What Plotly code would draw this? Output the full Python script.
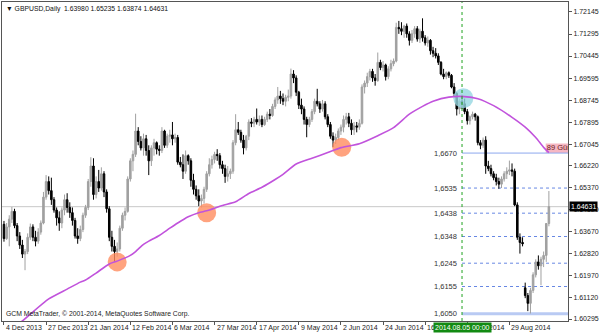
import plotly.graph_objects as go

# ---------------- data ----------------
opens = [1.6395,1.6340,1.6385,1.6415,1.6445,1.6390,1.6350,1.6315,1.6280,1.6290,
1.6345,1.6385,1.6345,1.6330,1.6365,1.6400,1.6500,1.6560,1.6525,1.6490,
1.6450,1.6420,1.6400,1.6450,1.6490,1.6460,1.6440,1.6410,1.6350,1.6340,
1.6375,1.6430,1.6460,1.6560,1.6620,1.6510,1.6560,1.6535,1.6590,1.6520,
1.6455,1.6345,1.6310,1.6290,1.6300,1.6380,1.6430,1.6445,1.6570,1.6640,
1.6665,1.6755,1.6715,1.6690,1.6725,1.6680,1.6640,1.6690,1.6710,1.6685,
1.6680,1.6755,1.6700,1.6735,1.6740,1.6725,1.6730,1.6635,1.6625,1.6600,
1.6660,1.6640,1.6565,1.6530,1.6505,1.6485,1.6495,1.6530,1.6590,1.6625,
1.6645,1.6665,1.6660,1.6625,1.6610,1.6580,1.6590,1.6600,1.6710,1.6760,
1.6750,1.6720,1.6690,1.6735,1.6790,1.6785,1.6800,1.6790,1.6800,1.6780,
1.6800,1.6820,1.6815,1.6850,1.6875,1.6890,1.6880,1.6870,1.6885,1.6890,
1.6975,1.6960,1.6905,1.6855,1.6840,1.6800,1.6780,1.6800,1.6830,1.6870,
1.6860,1.6840,1.6860,1.6810,1.6780,1.6735,1.6720,1.6730,1.6755,1.6770,
1.6800,1.6810,1.6785,1.6760,1.6775,1.6770,1.6785,1.6925,1.6940,1.6965,
1.6985,1.6960,1.6950,1.7020,1.7000,1.7010,1.6965,1.6995,1.7015,1.7025,
1.7155,1.7150,1.7140,1.7160,1.7130,1.7105,1.7130,1.7150,1.7110,1.7140,
1.7115,1.7095,1.7105,1.7065,1.7055,1.7045,1.7020,1.6975,1.6965,1.6980,
1.6970,1.6925,1.6900,1.6840,1.6870,1.6860,1.6830,1.6795,1.6810,1.6820,
1.6810,1.6710,1.6700,1.6720,1.6620,1.6610,1.6590,1.6575,1.6560,1.6550,
1.6570,1.6590,1.6600,1.6605,1.6600,1.6470,1.6345,1.6325,1.6150,1.6120,
1.6090,1.6140,1.6200,1.6250,1.6235,1.6260,1.6275,1.63980]
highs = [1.6408,1.6400,1.6430,1.6462,1.6455,1.6400,1.6365,1.6335,1.6300,1.6360,
1.6398,1.6395,1.6370,1.6380,1.6410,1.6520,1.6585,1.6580,1.6575,1.6500,
1.6460,1.6445,1.6460,1.6510,1.6515,1.6480,1.6460,1.6420,1.6380,1.6390,
1.6440,1.6470,1.6570,1.6654,1.6650,1.6580,1.6605,1.6615,1.6600,1.6530,
1.6465,1.6370,1.6335,1.6325,1.6390,1.6440,1.6460,1.6580,1.6650,1.6680,
1.6822,1.6770,1.6735,1.6745,1.6740,1.6700,1.6700,1.6725,1.6715,1.6700,
1.6770,1.6760,1.6745,1.6760,1.6790,1.6745,1.6740,1.6655,1.6665,1.6680,
1.6665,1.6650,1.6590,1.6545,1.6530,1.6510,1.6540,1.6600,1.6650,1.6660,
1.6675,1.6685,1.6670,1.6640,1.6625,1.6620,1.6610,1.6720,1.6820,1.6790,
1.6760,1.6740,1.6740,1.6800,1.6805,1.6810,1.6842,1.6815,1.6815,1.6810,
1.6830,1.6840,1.6860,1.6885,1.6925,1.6910,1.6900,1.6895,1.6915,1.6996,
1.6990,1.6970,1.6910,1.6880,1.6850,1.6810,1.6810,1.6840,1.6880,1.6918,
1.6870,1.6875,1.6870,1.6820,1.6790,1.6750,1.6745,1.6765,1.6780,1.6815,
1.6825,1.6825,1.6800,1.6790,1.6790,1.6800,1.6935,1.6950,1.6980,1.6995,
1.6995,1.6975,1.7058,1.7030,1.7025,1.7015,1.7005,1.7030,1.7035,1.7173,
1.7180,1.7175,1.7165,1.7170,1.7140,1.7145,1.7160,1.7160,1.7150,1.7190,
1.7125,1.7120,1.7110,1.7080,1.7075,1.7055,1.7025,1.6995,1.6985,1.6985,
1.6975,1.6940,1.6905,1.6880,1.6895,1.6880,1.6840,1.6815,1.6830,1.6825,
1.6815,1.6720,1.6730,1.6735,1.6640,1.6625,1.6600,1.6590,1.6575,1.6580,
1.6600,1.6615,1.6641,1.6630,1.6610,1.6480,1.6360,1.6345,1.6170,1.6130,
1.6150,1.6210,1.6260,1.6275,1.6270,1.6290,1.6400,1.65235]
lows = [1.6328,1.6335,1.6310,1.6400,1.6380,1.6330,1.6300,1.6265,1.6218,1.6280,
1.6335,1.6330,1.6310,1.6320,1.6355,1.6395,1.6490,1.6510,1.6470,1.6440,
1.6390,1.6370,1.6380,1.6430,1.6440,1.6420,1.6390,1.6340,1.6320,1.6330,
1.6365,1.6420,1.6450,1.6540,1.6490,1.6495,1.6520,1.6525,1.6500,1.6440,
1.6330,1.6290,1.6250,1.6270,1.6290,1.6370,1.6410,1.6440,1.6560,1.6600,
1.6655,1.6700,1.6680,1.6660,1.6660,1.6585,1.6620,1.6660,1.6665,1.6660,
1.6670,1.6690,1.6690,1.6710,1.6700,1.6710,1.6625,1.6615,1.6570,1.6590,
1.6625,1.6540,1.6510,1.6490,1.6465,1.6460,1.6475,1.6520,1.6580,1.6610,
1.6630,1.6640,1.6610,1.6590,1.6555,1.6560,1.6570,1.6590,1.6700,1.6740,
1.6710,1.6665,1.6680,1.6720,1.6770,1.6770,1.6780,1.6775,1.6770,1.6775,
1.6790,1.6800,1.6810,1.6840,1.6860,1.6860,1.6855,1.6850,1.6870,1.6880,
1.6940,1.6890,1.6840,1.6820,1.6780,1.6731,1.6770,1.6790,1.6820,1.6850,
1.6825,1.6830,1.6800,1.6770,1.6725,1.6693,1.6705,1.6720,1.6740,1.6750,
1.6780,1.6770,1.6740,1.6740,1.6750,1.6760,1.6780,1.6900,1.6925,1.6950,
1.6945,1.6930,1.6945,1.6990,1.6985,1.6950,1.6955,1.6985,1.7005,1.7020,
1.7130,1.7125,1.7115,1.7115,1.7085,1.7095,1.7115,1.7100,1.7095,1.7100,
1.7085,1.7080,1.7050,1.7040,1.7035,1.7010,1.6970,1.6955,1.6955,1.6960,
1.6920,1.6890,1.6815,1.6820,1.6840,1.6820,1.6780,1.6780,1.6800,1.6795,
1.6700,1.6685,1.6690,1.6590,1.6600,1.6580,1.6565,1.6545,1.6532,1.6535,
1.6560,1.6570,1.6585,1.6580,1.6465,1.6335,1.6282,1.6310,1.6110,1.6060,
1.6051,1.6130,1.6190,1.6220,1.6160,1.6230,1.6250,1.63874]
closes = [1.6340,1.6385,1.6415,1.6445,1.6390,1.6350,1.6315,1.6280,1.6290,1.6345,
1.6385,1.6345,1.6330,1.6365,1.6400,1.6500,1.6560,1.6525,1.6490,1.6450,
1.6420,1.6400,1.6450,1.6490,1.6460,1.6440,1.6410,1.6350,1.6340,1.6375,
1.6430,1.6460,1.6560,1.6620,1.6510,1.6560,1.6535,1.6590,1.6520,1.6455,
1.6345,1.6310,1.6290,1.6300,1.6380,1.6430,1.6445,1.6570,1.6640,1.6665,
1.6755,1.6715,1.6690,1.6725,1.6680,1.6640,1.6690,1.6710,1.6685,1.6680,
1.6755,1.6700,1.6735,1.6740,1.6725,1.6730,1.6635,1.6625,1.6600,1.6660,
1.6640,1.6565,1.6530,1.6505,1.6485,1.6495,1.6530,1.6590,1.6625,1.6645,
1.6665,1.6660,1.6625,1.6610,1.6580,1.6590,1.6600,1.6710,1.6760,1.6750,
1.6720,1.6690,1.6735,1.6790,1.6785,1.6800,1.6790,1.6800,1.6780,1.6800,
1.6820,1.6815,1.6850,1.6875,1.6890,1.6880,1.6870,1.6885,1.6890,1.6975,
1.6960,1.6905,1.6855,1.6840,1.6800,1.6780,1.6800,1.6830,1.6870,1.6860,
1.6840,1.6860,1.6810,1.6780,1.6735,1.6720,1.6730,1.6755,1.6770,1.6800,
1.6810,1.6785,1.6760,1.6775,1.6770,1.6785,1.6925,1.6940,1.6965,1.6985,
1.6960,1.6950,1.7020,1.7000,1.7010,1.6965,1.6995,1.7015,1.7025,1.7155,
1.7150,1.7140,1.7160,1.7130,1.7105,1.7130,1.7150,1.7110,1.7140,1.7115,
1.7095,1.7105,1.7065,1.7055,1.7045,1.7020,1.6975,1.6965,1.6980,1.6970,
1.6925,1.6900,1.6840,1.6870,1.6860,1.6830,1.6795,1.6810,1.6820,1.6810,
1.6710,1.6700,1.6720,1.6620,1.6610,1.6590,1.6575,1.6560,1.6550,1.6570,
1.6590,1.6600,1.6605,1.6600,1.6470,1.6345,1.6325,1.6320,1.6120,1.6090,
1.6140,1.6200,1.6250,1.6235,1.6260,1.6275,1.6398,1.64631]
bar_idx = list(range(len(closes)))

label_idx = [0, 16, 32, 48, 64, 80, 96, 112, 128, 144, 160, 176, 192]
label_text = ["4 Dec 2013", "27 Dec 2013", "21 Jan 2014", "12 Feb 2014", "6 Mar 2014",
              "27 Mar 2014", "17 Apr 2014", "9 May 2014", "2 Jun 2014", "24 Jun 2014",
              "16 Jul 2014", "7 Aug 2014", "29 Aug 2014"]

ma_idx = [0, 7, 17, 24, 29, 31, 35, 40, 43, 48, 50, 53, 55, 59, 63, 66, 70, 74, 77, 83,
          88, 93, 98, 103, 106, 111, 117, 123, 128, 135, 142, 148, 154, 159, 163, 169,
          175, 180, 186, 193, 198, 202, 205, 207]
ma_val = [1.5965, 1.6022, 1.6107, 1.6145, 1.6172, 1.6180, 1.6207, 1.6242, 1.6253, 1.6275,
          1.6290, 1.6318, 1.6330, 1.6352, 1.6380, 1.6400, 1.6424, 1.6440, 1.6447, 1.6468,
          1.6482, 1.6514, 1.6538, 1.6568, 1.6588, 1.6628, 1.6650, 1.6672, 1.6691, 1.6706,
          1.6737, 1.6768, 1.6820, 1.6850, 1.6870, 1.6886, 1.6888, 1.6880, 1.6853, 1.6808,
          1.6770, 1.6730, 1.6692, 1.6672]
ma_label = "89 Gün"

touch_idx = [43.0, 77.0, 128.3]
touch_val = [1.6250, 1.6440, 1.6692]
cross_idx = [174.5]
cross_val = [1.6882]

levels = [1.6670, 1.6535, 1.6438, 1.6348, 1.6245, 1.6155, 1.6050]
level_text = ["1,6670", "1,6535", "1,6438", "1,6348", "1,6245", "1,6155", "1,6050"]
level_kind = ["solid", "dot", "dot", "dot", "dot", "dot", "thick"]

vline_idx = 174
vline_text = "2014.08.05 00:00"

ytick_vals = [1.72145, 1.71295, 1.70445, 1.69595, 1.68745, 1.67895, 1.67045, 1.66220,
              1.65370, 1.64520, 1.63670, 1.62820, 1.61970, 1.61120, 1.60295]
last_price = 1.64631
title_text = "GBPUSD,Daily  1.63980 1.65235 1.63874 1.64631"
copyright_text = "GCM MetaTrader, © 2001-2014, MetaQuotes Software Corp."

# ---------------- figure ----------------
FONT = "Liberation Sans"
x_range = [-0.75, 214.26]
y_range = [1.60219, 1.72530]

fig = go.Figure()

# highlight circles (under candles)
fig.add_trace(go.Scatter(x=touch_idx, y=touch_val, mode="markers",
                         marker=dict(size=19, color="rgba(255,140,95,0.8)", line=dict(width=0)),
                         hoverinfo="skip", showlegend=False))
fig.add_trace(go.Scatter(x=cross_idx, y=cross_val, mode="markers",
                         marker=dict(size=20, color="rgba(150,215,225,0.8)", line=dict(width=0)),
                         hoverinfo="skip", showlegend=False))

fig.add_trace(go.Candlestick(
    x=bar_idx, open=opens, high=highs, low=lows, close=closes,
    increasing=dict(fillcolor="#a0a0a0", line=dict(color="#a0a0a0", width=1)),
    decreasing=dict(fillcolor="#000000", line=dict(color="#000000", width=1)),
    whiskerwidth=0, hoverinfo="skip", showlegend=False))

fig.add_trace(go.Scatter(x=ma_idx, y=ma_val, mode="lines",
                         line=dict(color="#c153dc", width=1.6, shape="spline", smoothing=0.6),
                         hoverinfo="skip", showlegend=False))

# MA label box (clipped at plot edge)
fig.add_shape(type="rect", xref="x", yref="y", x0=205.8, x1=230, y0=levels[0], y1=1.6707,
              fillcolor="#f6b7c3", line=dict(width=0), layer="below")
fig.add_trace(go.Scatter(x=[206.2], y=[1.66885], mode="text", text=[ma_label],
                         textposition="middle right",
                         textfont=dict(family=FONT, size=7.5, color="#6a1b1b"),
                         hoverinfo="skip", showlegend=False))

# current price line
fig.add_shape(type="line", xref="paper", yref="y", x0=0, x1=1, y0=last_price, y1=last_price,
              line=dict(color="#c8c8c8", width=1), layer="below")

# level lines
for lv, kind, txt in zip(levels, level_kind, level_text):
    if kind == "solid":
        ln = dict(color="#8da7ee", width=1)
    elif kind == "thick":
        ln = dict(color="#b9caf3", width=3)
    else:
        ln = dict(color="#6787e3", width=1, dash="dot")
    fig.add_shape(type="line", xref="x", yref="y", x0=vline_idx, x1=x_range[1], y0=lv, y1=lv,
                  line=ln, layer="below")
    fig.add_annotation(x=vline_idx, y=lv, xref="x", yref="y", text=txt, showarrow=False,
                       xanchor="right", yanchor="middle", xshift=-3,
                       font=dict(family=FONT, size=7.5, color="#333333"))

# vertical time line
fig.add_shape(type="line", xref="x", yref="paper", x0=vline_idx, x1=vline_idx, y0=0, y1=1,
              line=dict(color="#1fa31f", width=1, dash="dot"), layer="above")

# date labels
for xi, t in zip(label_idx, label_text):
    fig.add_annotation(x=xi, y=0, xref="x", yref="paper", text=t, showarrow=False,
                       xanchor="left", yanchor="top", xshift=0, yshift=-1,
                       font=dict(family=FONT, size=7, color="#222222"))
fig.add_annotation(x=vline_idx, y=0, xref="x", yref="paper", text=vline_text, showarrow=False,
                   xanchor="center", yanchor="top", yshift=-1, bgcolor="#128a12",
                   borderpad=1, font=dict(family=FONT, size=7, color="#ffffff"))

# current price tag on axis
fig.add_annotation(x=1, y=last_price, xref="paper", yref="y", text=f"{last_price:.5f}",
                   showarrow=False, xanchor="left", yanchor="middle", xshift=1,
                   bgcolor="#000000", borderpad=1,
                   font=dict(family=FONT, size=7, color="#ffffff"))

# header and copyright
fig.add_annotation(x=0, y=1, xref="paper", yref="paper", text="▼ " + title_text,
                   showarrow=False, xanchor="left", yanchor="top", xshift=2, yshift=-1,
                   font=dict(family=FONT, size=6.8, color="#111111"))
fig.add_annotation(x=0, y=0, xref="paper", yref="paper", text=copyright_text,
                   showarrow=False, xanchor="left", yanchor="bottom", xshift=2, yshift=1,
                   font=dict(family=FONT, size=6.8, color="#222222"))

fig.update_layout(
    width=600, height=333,
    margin=dict(l=2, r=28, t=1, b=12),
    paper_bgcolor="#ffffff", plot_bgcolor="#ffffff",
    showlegend=False, hovermode=False, boxgap=0.15,
    xaxis=dict(range=x_range, rangeslider=dict(visible=False), showgrid=False, zeroline=False,
               showline=True, mirror=True, linecolor="#555555", linewidth=1,
               tickvals=label_idx, ticktext=["" for _ in label_idx], ticks="outside",
               ticklen=3, tickcolor="#555555"),
    yaxis=dict(range=y_range, side="right", showgrid=False, zeroline=False,
               showline=True, mirror=True, linecolor="#555555", linewidth=1,
               tickvals=ytick_vals, ticktext=[f"{v:.5f}" for v in ytick_vals],
               ticks="outside", ticklen=3, tickcolor="#555555",
               tickfont=dict(family=FONT, size=7, color="#222222")),
)

fig.write_html("out.html", include_plotlyjs=True, config={"displayModeBar": False})
